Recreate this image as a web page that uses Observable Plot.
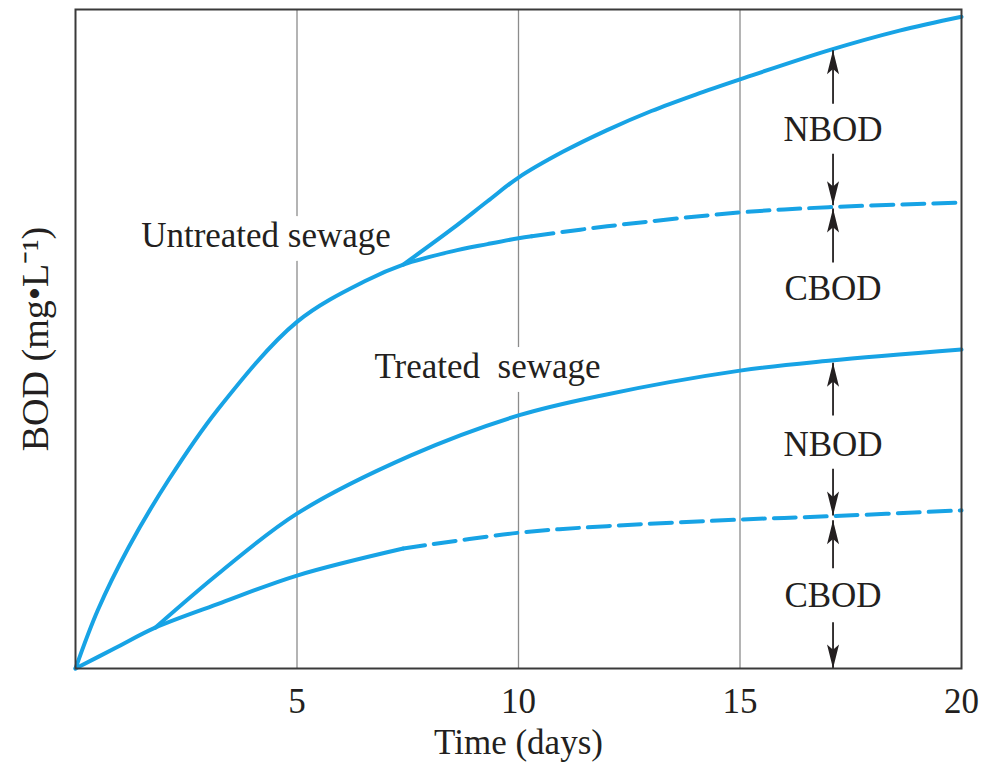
<!DOCTYPE html>
<html><head><meta charset="utf-8">
<script src="https://cdn.jsdelivr.net/npm/d3@7"></script>
<script src="https://cdn.jsdelivr.net/npm/@observablehq/plot@0.6"></script>
<style>html,body{margin:0;padding:0;background:#fff} svg{display:block}</style>
</head><body><div id="chart"></div>
<script>
// ---- data ----
// Untreated sewage: shared rise + CBOD branch (solid part)
const untreatedCbodSolidDays = [0, 0.5, 1.2, 2.1, 3.2, 5, 6.6, 7.4, 8.5, 9.3, 10, 10.3];
const untreatedCbodSolidBOD  = [0, 8.8, 18.4, 28.6, 39.2, 52.6, 59.0, 61.3, 63.3, 64.4, 65.3, 65.6];
// Untreated sewage CBOD (dashed continuation)
const untreatedCbodDashDays = [10.3, 12, 15, 17, 20];
const untreatedCbodDashBOD  = [65.6, 67.1, 69.2, 70.0, 70.7];
// Untreated sewage total (CBOD + NBOD) branch
const untreatedTotalDays = [7.4, 8.5, 9.3, 10, 11, 12, 13, 14, 15, 17, 18.6, 20];
const untreatedTotalBOD  = [61.3, 66.7, 70.9, 74.5, 78.4, 81.7, 84.6, 87.1, 89.4, 93.8, 96.8, 98.9];
// Treated sewage: shared rise + CBOD branch (solid part)
const treatedCbodSolidDays = [0, 0.9, 1.8, 3.3, 5, 7.4];
const treatedCbodSolidBOD  = [0, 3.1, 6.2, 10.0, 14.1, 18.2];
// Treated sewage CBOD (dashed continuation)
const treatedCbodDashDays = [7.4, 10, 12, 15, 17, 20];
const treatedCbodDashBOD  = [18.2, 20.6, 21.6, 22.6, 23.1, 24.0];
// Treated sewage total (CBOD + NBOD) branch
const treatedTotalDays = [1.8, 3.3, 5, 7.56, 10, 11.85, 15, 17, 20];
const treatedTotalBOD  = [6.2, 14.8, 23.5, 32.3, 38.4, 41.4, 45.2, 46.7, 48.4];

const gridDays = [5, 10, 15];
const xTicks = [5, 10, 15, 20];

const curveLabelText = ["Untreated sewage", "Treated\u00a0 sewage"];
const curveLabelDay  = [4.3, 9.3];
const curveLabelBOD  = [65.6, 45.8];

const partLabelText = ["NBOD", "CBOD", "NBOD", "CBOD"];
const partLabelDay  = [17.1, 17.1, 17.1, 17.1];
const partLabelBOD  = [81.8, 57.6, 34.0, 11.0];

const arrowDay  = [17.1, 17.1, 17.1, 17.1, 17.1, 17.1, 17.1];
const arrowFrom = [85.7, 78.1, 61.6, 38.4, 30.3, 15.2, 7.0];
const arrowTo   = [93.8, 70.3, 69.8, 46.4, 23.2, 22.5, 0];

const yLabel = "BOD (mg\u2022L\u207B\u00B9)";
const xLabel = "Time (days)";

// ---- build tables ----
const zip = (xs, ys) => xs.map((x, i) => ({day: x, bod: ys[i]}));
const solidSeries = [
  zip(untreatedCbodSolidDays, untreatedCbodSolidBOD),
  zip(untreatedTotalDays, untreatedTotalBOD),
  zip(treatedCbodSolidDays, treatedCbodSolidBOD),
  zip(treatedTotalDays, treatedTotalBOD)
];
const dashSeries = [
  zip(untreatedCbodDashDays, untreatedCbodDashBOD),
  zip(treatedCbodDashDays, treatedCbodDashBOD)
];
const curveLabels = curveLabelText.map((t, i) => ({text: t, day: curveLabelDay[i], bod: curveLabelBOD[i]}));
const partLabels = partLabelText.map((t, i) => ({text: t, day: partLabelDay[i], bod: partLabelBOD[i]}));
const arrows = arrowDay.map((d, i) => ({day: d, from: arrowFrom[i], to: arrowTo[i]}));

const blue = "#17a3e5";
const ink = "#231f20";
const stealth = {
  draw(ctx, l, r) {
    const w = 6;
    ctx.moveTo(0, -l);
    ctx.lineTo(w, 0);
    ctx.lineTo(0, -l * 0.22);
    ctx.lineTo(-w, 0);
    ctx.closePath();
  }
};

const chart = Plot.plot({
  width: 981,
  height: 771,
  marginLeft: 75,
  marginRight: 20,
  marginTop: 9,
  marginBottom: 103,
  style: {fontFamily: "'Liberation Serif', 'Times New Roman', serif", fontSize: "35px", color: ink, background: "#fff"},
  x: {domain: [0, 20]},
  y: {domain: [0, 100], axis: null},
  marks: [
    Plot.ruleX(gridDays, {stroke: "#8c8c8c", strokeWidth: 1.3}),
    Plot.text(curveLabels, {x: "day", y: "bod", text: "text", fontSize: 35, fill: ink, stroke: "#fff", strokeWidth: 28, textAnchor: "middle"}),
    ...solidSeries.map(s => Plot.line(s, {x: "day", y: "bod", stroke: blue, strokeWidth: 4, curve: "catmull-rom"})),
    ...dashSeries.map(s => Plot.line(s, {x: "day", y: "bod", stroke: blue, strokeWidth: 4, strokeDasharray: "22,9", curve: "catmull-rom"})),
    Plot.link(arrows, {x1: "day", x2: "day", y1: "from", y2: "to", stroke: ink, strokeWidth: 1.8}),
    Plot.vector(arrows, {x: "day", y: "to", rotate: d => (d.to > d.from ? 0 : 180), length: 24, shape: stealth, anchor: "end", fill: ink, stroke: "none"}),
    Plot.text(partLabels, {x: "day", y: "bod", text: "text", fontSize: 35, fill: ink}),
    Plot.frame({stroke: "#3a3a3a", strokeWidth: 2}),
    Plot.axisX(xTicks, {tickSize: 0, tickPadding: 20, fontSize: 35, label: null}),
    Plot.text([yLabel], {frameAnchor: "left", textAnchor: "middle", lineAnchor: "middle", text: d => d, rotate: -90, dx: -40, fontSize: 38, fill: ink}),
    Plot.text([xLabel], {frameAnchor: "bottom", textAnchor: "middle", lineAnchor: "middle", text: d => d, dy: 74, fontSize: 35, fill: ink})
  ]
});
document.getElementById("chart").appendChild(chart);
</script>
</body></html>
